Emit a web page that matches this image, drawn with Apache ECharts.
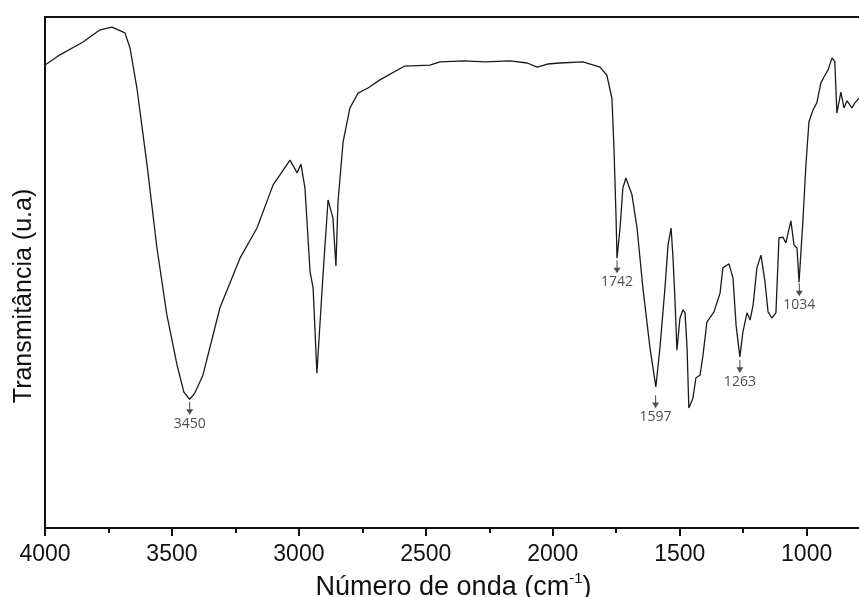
<!DOCTYPE html>
<html>
<head>
<meta charset="utf-8">
<script src="https://cdn.jsdelivr.net/npm/echarts@6/dist/echarts.min.js"></script>
<style>
html,body{margin:0;padding:0;background:#fff;}
#chart{width:859px;height:597px;}
</style>
</head>
<body>
<div id="chart"></div>
<script>
// Wavenumber (cm^-1) and transmittance (arbitrary units, 0-100)
const wavenumber = [
  4000, 3941, 3850, 3783, 3736, 3685, 3665, 3638, 3598, 3559, 3520, 3480, 3453, 3430, 3410, 3378,
  3311, 3232, 3165, 3102, 3035, 3007, 2992, 2976, 2956, 2944, 2929, 2905, 2885, 2866, 2854, 2846,
  2826, 2799, 2767, 2728, 2681, 2583, 2484, 2444, 2350, 2267, 2169, 2100, 2062, 2020, 1972, 1881,
  1814, 1787, 1767, 1759, 1751, 1747, 1735, 1724, 1712, 1688, 1668, 1645, 1617, 1594, 1578, 1558,
  1546, 1534, 1527, 1519, 1511, 1499, 1487, 1479, 1471, 1464, 1448, 1436, 1420, 1408, 1393, 1365,
  1341, 1330, 1306, 1290, 1278, 1263, 1251, 1235, 1223, 1211, 1196, 1180, 1164, 1152, 1137, 1121,
  1109, 1093, 1082, 1062, 1050, 1038, 1030, 1015, 1003, 991, 975, 960, 944, 928, 916, 900,
  889, 881, 865, 853, 841, 822, 810, 794
];
const transmittance = [
  90.6, 92.6, 95.1, 97.5, 98.0, 96.9, 93.9, 86.1, 71.0, 54.8, 41.7, 31.9, 26.6, 25.2, 26.4, 29.9,
  43.1, 52.8, 58.7, 67.1, 72.0, 69.5, 71.2, 66.5, 50.1, 47.0, 30.3, 49.5, 64.2, 60.7, 51.3, 63.8,
  75.5, 82.2, 85.1, 86.1, 87.7, 90.4, 90.6, 91.2, 91.4, 91.2, 91.4, 91.0, 90.2, 90.8, 91.0, 91.2,
  90.2, 88.6, 84.1, 74.4, 61.3, 52.8, 58.7, 66.5, 68.5, 65.2, 58.7, 47.0, 35.2, 27.6, 35.2, 47.0,
  55.4, 58.7, 53.4, 45.0, 34.8, 41.1, 42.7, 42.1, 35.2, 23.5, 25.4, 29.4, 29.9, 33.9, 40.3, 42.3,
  46.0, 50.9, 51.7, 48.9, 39.7, 33.5, 38.4, 42.1, 40.7, 43.6, 50.9, 53.4, 48.1, 42.3, 41.1, 42.1,
  56.8, 56.9, 55.8, 60.1, 55.4, 54.8, 48.1, 59.9, 71.0, 79.5, 81.8, 83.2, 87.1, 88.6, 89.6, 92.0,
  91.2, 81.2, 85.3, 82.2, 83.6, 82.2, 83.2, 84.1
];

// Annotated bands: label text, position on the axis, top of arrow
const peakLabels = ['3450', '1742', '1597', '1263', '1034'];
const peakX = [3430, 1747, 1595, 1263, 1029];
const peakY = [24.7, 52.4, 26.0, 32.9, 47.9];

// Axis ticks
const majorTicks = [1000, 1500, 2000, 2500, 3000, 3500, 4000];
const minorTicks = [1250, 1750, 2250, 2750, 3250, 3750];

const xName = 'Número de onda (cm';
const xNameSup = '-1';
const yName = 'Transmitância (u.a)';

const spectrum = wavenumber.map((w, i) => [w, transmittance[i]]);
const peaks = peakLabels.map((l, i) => ({ name: l, value: [peakX[i], peakY[i]] }));

const chart = echarts.init(document.getElementById('chart'), null, { renderer: 'canvas' });
const X_MIN = 782, X_MAX = 4000;

chart.setOption({
  animation: false,
  backgroundColor: '#ffffff',
  grid: {
    left: 45, right: -3, top: 17, bottom: 69,
    outerBoundsMode: 'none', containLabel: false,
    show: true, borderColor: '#111', borderWidth: 2, backgroundColor: 'transparent'
  },
  xAxis: [
    {
      type: 'value', inverse: true, min: X_MIN, max: X_MAX, position: 'bottom',
      axisLine: { show: true, lineStyle: { color: '#111', width: 2 } },
      axisTick: { show: true, customValues: majorTicks, length: 8, inside: false, lineStyle: { color: '#111', width: 2 } },
      axisLabel: {
        show: true, customValues: majorTicks, margin: 15,
        formatter: v => String(v),
        fontFamily: 'Liberation Sans', fontSize: 23, color: '#111'
      },
      splitLine: { show: false },
      name: '{a|' + xName + '}{s|' + xNameSup + '}{a|)}',
      nameLocation: 'middle', nameGap: 39,
      nameTextStyle: {
        rich: {
          a: { fontFamily: 'Liberation Sans', fontSize: 27, color: '#111', lineHeight: 30, verticalAlign: 'bottom' },
          s: { fontFamily: 'Liberation Sans', fontSize: 15, color: '#111', lineHeight: 30, verticalAlign: 'top' }
        }
      }
    },
    {
      type: 'value', inverse: true, min: X_MIN, max: X_MAX, position: 'bottom',
      axisLine: { show: false },
      axisTick: { show: true, customValues: minorTicks, length: 5, inside: false, lineStyle: { color: '#111', width: 2 } },
      axisLabel: { show: false },
      splitLine: { show: false }
    }
  ],
  yAxis: {
    type: 'value', min: 0, max: 100,
    axisLine: { show: false }, axisTick: { show: false }, axisLabel: { show: false },
    splitLine: { show: false }
  },
  graphic: [
    {
      type: 'text', x: 24, y: 296, rotation: Math.PI / 2,
      style: {
        text: yName, fontFamily: 'Liberation Sans', fontSize: 25, fill: '#111',
        align: 'center', verticalAlign: 'middle'
      }
    }
  ],
  series: [
    {
      type: 'line', xAxisIndex: 0, data: spectrum, showSymbol: false, smooth: false,
      lineStyle: { color: '#1a1a1a', width: 1.3 }
    },
    {
      type: 'scatter', xAxisIndex: 0, data: peaks,
      symbol: 'path://M4.4,0 L5.6,0 L5.6,8 L9,8 L5,14 L1,8 L4.4,8 Z',
      symbolSize: [7, 13], symbolOffset: [0, '50%'],
      itemStyle: { color: '#222' },
      label: {
        show: true, position: 'bottom', distance: 2, formatter: '{b}',
        fontFamily: 'Open Sans', fontSize: 14, color: '#222'
      }
    }
  ]
});
</script>
</body>
</html>
